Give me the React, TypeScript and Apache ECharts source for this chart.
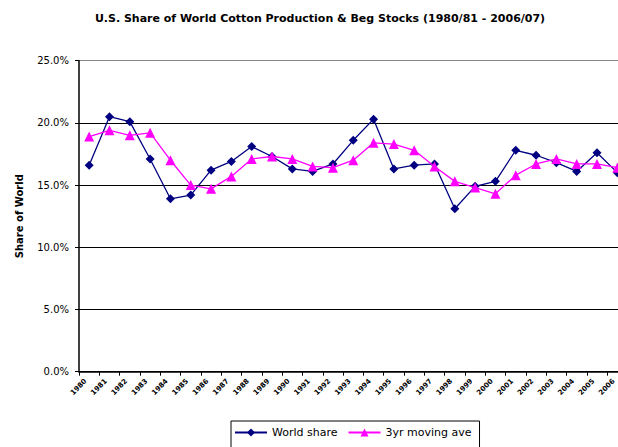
import React, { useEffect, useRef } from "react";
import * as echarts from "echarts";

const years = [
  "1980", "1981", "1982", "1983", "1984", "1985", "1986", "1987", "1988",
  "1989", "1990", "1991", "1992", "1993", "1994", "1995", "1996", "1997",
  "1998", "1999", "2000", "2001", "2002", "2003", "2004", "2005", "2006",
];

const worldShare = [
  16.6, 20.5, 20.1, 17.1, 13.9, 14.2, 16.2, 16.9, 18.1,
  17.3, 16.3, 16.1, 16.7, 18.6, 20.3, 16.3, 16.6, 16.7,
  13.1, 14.9, 15.3, 17.8, 17.4, 16.8, 16.1, 17.6, 16.0,
];

const movingAve = [
  18.9, 19.4, 19.0, 19.2, 17.0, 15.0, 14.7, 15.7, 17.1,
  17.3, 17.1, 16.5, 16.4, 17.0, 18.4, 18.3, 17.8, 16.5,
  15.3, 14.8, 14.3, 15.8, 16.7, 17.1, 16.7, 16.7, 16.4,
];

const yTicks = [0, 5, 10, 15, 20, 25];

const FONT = "DejaVu Sans";

export default function App() {
  const ref = useRef<HTMLDivElement>(null);

  useEffect(() => {
    if (!ref.current) return;
    const chart = echarts.init(ref.current, undefined, { renderer: "svg" });
    chart.setOption({
      animation: false,
      backgroundColor: "#ffffff",
      graphic: [
        {
          type: "text",
          x: 320,
          y: 18,
          style: {
            text: "U.S. Share of World Cotton Production & Beg Stocks (1980/81 - 2006/07)",
            fontFamily: FONT,
            fontSize: 11,
            fontWeight: "bold",
            fill: "#000",
            textAlign: "center",
            textVerticalAlign: "middle",
          },
        },
      ],
      legend: {
        left: 231,
        top: 421,
        orient: "horizontal",
        borderColor: "#000",
        borderWidth: 1,
        padding: [6, 8, 12, 3],
        itemGap: 10,
        itemWidth: 32,
        itemHeight: 10,
        textStyle: { fontFamily: FONT, fontSize: 11, color: "#000" },
        data: ["World share", "3yr moving ave"],
      },
      grid: { left: 79, top: 60.7, bottom: 75.3, right: 0.5, containLabel: false },
      xAxis: {
        type: "category",
        data: years,
        boundaryGap: true,
        axisLine: { show: true, lineStyle: { color: "#000", width: 1.5 } },
        axisTick: { show: true, length: 4, lineStyle: { color: "#000" } },
        axisLabel: {
          rotate: 45,
          interval: 0,
          margin: 5,
          padding: [0, 5, 0, 0],
          fontFamily: FONT,
          fontSize: 7,
          fontWeight: "bold",
          color: "#000",
        },
        splitLine: { show: false },
      },
      yAxis: {
        type: "value",
        min: yTicks[0],
        max: yTicks[yTicks.length - 1],
        interval: 5,
        name: "Share of World",
        nameLocation: "middle",
        nameRotate: 90,
        nameGap: 55,
        nameTextStyle: { fontFamily: FONT, fontSize: 10, fontWeight: "bold", color: "#000" },
        axisLine: { show: true, lineStyle: { color: "#000", width: 1.5 } },
        axisTick: { show: true, length: 4, lineStyle: { color: "#000" } },
        axisLabel: {
          margin: 10,
          fontFamily: FONT,
          fontSize: 10,
          color: "#000",
          formatter: (v: number) => v.toFixed(1) + "%",
        },
        splitLine: {
          show: true,
          lineStyle: { color: ["#000", "#000", "#000", "#000", "#000", "#888"], width: 1 },
        },
      },
      series: [
        {
          name: "World share",
          type: "line",
          data: worldShare,
          symbol: "diamond",
          symbolSize: 9,
          itemStyle: { color: "#000080" },
          lineStyle: { color: "#000080", width: 1.3 },
          z: 2,
        },
        {
          name: "3yr moving ave",
          type: "line",
          data: movingAve,
          symbol: "triangle",
          symbolSize: 10,
          itemStyle: { color: "#ff00ff" },
          lineStyle: { color: "#ff00ff", width: 1.3 },
          z: 3,
        },
      ],
    });
    return () => chart.dispose();
  }, []);

  return (
    <div
      style={{ position: "fixed", left: 0, top: 0, width: 618, height: 447, overflow: "hidden", background: "#fff" }}
    >
      <div ref={ref} style={{ width: 628, height: 447 }} />
    </div>
  );
}
